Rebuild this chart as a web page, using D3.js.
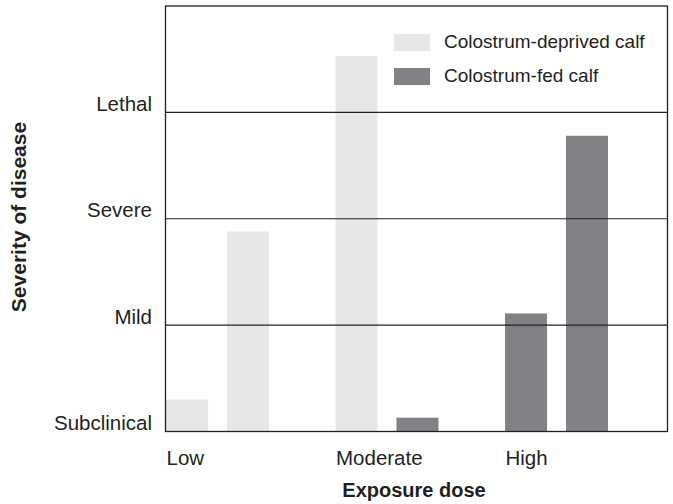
<!DOCTYPE html>
<html lang="en">
<head>
    <meta charset="UTF-8">
    <title>Severity of disease by exposure dose</title>
    <script src="https://cdn.jsdelivr.net/npm/d3@7"></script>
    <style>
        body { margin: 0; background: #fff; }
        text { font-family: 'Liberation Sans', Arial, Helvetica, sans-serif; fill: #231f20; }
    </style>
</head>
<body>
    <script>
        // data
        const doses = ['Low', 'Moderate', 'High']
        const barSeries = [['deprived', 'deprived'], ['deprived', 'fed'], ['fed', 'fed']]
        const barValues = [[0.30, 1.88], [3.53, 0.13], [1.11, 2.78]]
        const severityLabels = ['Subclinical', 'Mild', 'Severe', 'Lethal']
        const legendLabels = ['Colostrum-deprived calf', 'Colostrum-fed calf']

        const width = 673
        const height = 504

        const plot = { left: 165.5, right: 667.5, top: 6, bottom: 431.5 }

        const colors = { deprived: '#e6e7e8', fed: '#808285' }

        const bars = []
        doses.forEach((dose, i) => {
            barValues[i].forEach((v, j) => {
                bars.push({ dose: dose, slot: j, series: barSeries[i][j], value: v })
            })
        })

        const svg = d3.select('body')
            .append('svg')
            .attr('width', width)
            .attr('height', height)

        const x0 = d3.scaleBand()
            .domain(doses)
            .range([166, 674.5])

        const x1 = d3.scaleBand()
            .domain([0, 1])
            .range([0, 103])
            .paddingInner(0.31)

        const yScale = d3.scaleLinear()
            .domain([0, 4])
            .range([plot.bottom, plot.top])

        svg.selectAll('rect.bar')
            .data(bars)
            .enter()
            .append('rect')
            .attr('class', 'bar')
            .attr('x', (d) => x0(d.dose) + x1(d.slot))
            .attr('y', (d) => yScale(d.value))
            .attr('width', x1.bandwidth())
            .attr('height', (d) => yScale(0) - yScale(d.value))
            .attr('fill', (d) => colors[d.series])

        // severity grid lines
        svg.selectAll('line.grid')
            .data([1, 2, 3])
            .enter()
            .append('line')
            .attr('class', 'grid')
            .attr('x1', plot.left)
            .attr('x2', plot.right)
            .attr('y1', (d) => yScale(d))
            .attr('y2', (d) => yScale(d))
            .attr('stroke', '#231f20')
            .attr('stroke-width', 1.2)

        svg.append('rect')
            .attr('x', plot.left)
            .attr('y', plot.top)
            .attr('width', plot.right - plot.left)
            .attr('height', plot.bottom - plot.top)
            .attr('fill', 'none')
            .attr('stroke', '#231f20')
            .attr('stroke-width', 1.3)

        // y tick labels
        svg.selectAll('text.ylab')
            .data(severityLabels)
            .enter()
            .append('text')
            .attr('class', 'ylab')
            .attr('x', 152)
            .attr('y', (d, i) => yScale(i) - 1.5)
            .attr('text-anchor', 'end')
            .attr('font-size', '20.5px')
            .text((d) => d)

        // x tick labels, left aligned at each group
        svg.selectAll('text.xlab')
            .data(doses)
            .enter()
            .append('text')
            .attr('class', 'xlab')
            .attr('x', (d) => x0(d) + 0.5)
            .attr('y', 465)
            .attr('font-size', '20.5px')
            .text((d) => d)

        svg.append('text')
            .attr('x', 414)
            .attr('y', 497)
            .attr('text-anchor', 'middle')
            .attr('font-size', '20px')
            .attr('font-weight', 'bold')
            .text('Exposure dose')

        svg.append('text')
            .attr('transform', 'translate(26, 217) rotate(-90)')
            .attr('text-anchor', 'middle')
            .attr('font-size', '21px')
            .attr('font-weight', 'bold')
            .text('Severity of disease')

        // legend
        const legendX = 394
        const legendY = 34

        const legend = svg.selectAll('g.legend')
            .data(['deprived', 'fed'])
            .enter()
            .append('g')
            .attr('class', 'legend')
            .attr('transform', (d, i) => `translate(${legendX}, ${legendY + i * 34})`)

        legend.append('rect')
            .attr('width', 36)
            .attr('height', 17)
            .attr('fill', (d) => colors[d])

        legend.append('text')
            .attr('x', 50)
            .attr('y', 14)
            .attr('font-size', '19px')
            .text((d, i) => legendLabels[i])
    </script>
</body>
</html>
